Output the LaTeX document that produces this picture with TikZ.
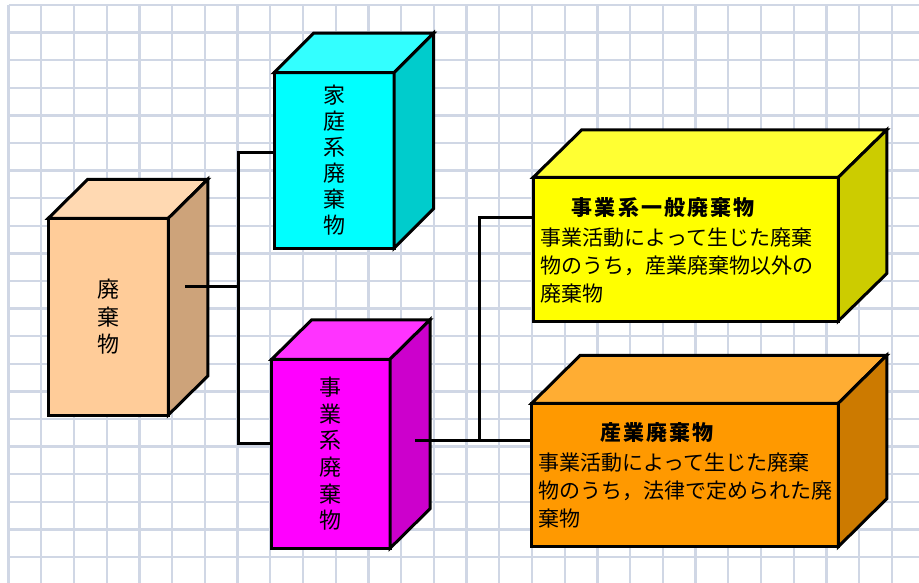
\documentclass[tikz,border=0pt]{standalone}
\usepackage{fontspec}
\newfontfamily\jp{Noto Sans CJK JP}
\definecolor{gridc}{RGB}{208,215,229}
\definecolor{peachF}{RGB}{255,204,153}
\definecolor{peachT}{RGB}{255,217,178}
\definecolor{peachS}{RGB}{205,163,122}
\definecolor{cyanF}{RGB}{0,255,255}
\definecolor{cyanT}{RGB}{51,255,255}
\definecolor{cyanS}{RGB}{0,204,204}
\definecolor{magF}{RGB}{255,0,255}
\definecolor{magT}{RGB}{255,51,255}
\definecolor{magS}{RGB}{204,0,204}
\definecolor{yelF}{RGB}{255,255,0}
\definecolor{yelT}{RGB}{255,255,51}
\definecolor{yelS}{RGB}{204,204,0}
\definecolor{orgF}{RGB}{255,153,0}
\definecolor{orgT}{RGB}{255,173,51}
\definecolor{orgS}{RGB}{204,122,0}
\newcommand\cubefaces[5]{%
  \filldraw[face, fill=#4] (#1.north west) -- ([shift={(#2,-#3)}]#1.north west) -- ([shift={(#2,-#3)}]#1.north east) -- (#1.north east) -- cycle;
  \filldraw[face, fill=#5] (#1.north east) -- ([shift={(#2,-#3)}]#1.north east) -- ([shift={(#2,-#3)}]#1.south east) -- (#1.south east) -- cycle;
}
\begin{document}
\begin{tikzpicture}[x=1pt,y=-1pt,
  face/.style={draw=black, line width=3pt, line join=miter},
  frontface/.style={face, rectangle, inner sep=0pt, outer sep=0pt, anchor=north west},
  conn/.style={draw=black, line width=3.3pt},
  vtext/.style={align=center, font={\jp\fontsize{22}{#1}\selectfont}},
  htitle/.style={anchor=west, inner sep=0pt, font={\jp\bfseries\fontsize{21}{28}\selectfont\addfontfeature{LetterSpace=10}}},
  hbody/.style={anchor=west, inner sep=0pt, align=left, font={\jp\fontsize{21}{28}\selectfont}}]
\useasboundingbox (0,0) rectangle (919,583);
\fill[white] (0,0) rectangle (919,583);
% grid
\foreach \k in {0,...,27} \draw[gridc, line width=2.3pt] (8.5+32.72*\k,5) -- (8.5+32.72*\k,583);
\foreach \k in {0,...,20} \draw[gridc, line width=2.3pt] (8.5,5+27.6*\k) -- (919,5+27.6*\k);

% box 1
\node[frontface, fill=peachF, minimum width=120pt, minimum height=196.7pt, vtext=27.5] (b1) at (48.3,218.3) {廃\\棄\\物};
\cubefaces{b1}{39.5}{39}{peachT}{peachS}
% box 2
\node[frontface, fill=cyanF, minimum width=120pt, minimum height=175.6pt, vtext=26] (b2) at (274,72.7) {家\\庭\\系\\廃\\棄\\物};
\cubefaces{b2}{39.5}{39.5}{cyanT}{cyanS}
% box 3
\node[frontface, fill=magF, minimum width=118.3pt, minimum height=189pt, vtext=26.7] (b3) at (271.7,359.3) {事\\業\\系\\廃\\棄\\物};
\cubefaces{b3}{40}{39.5}{magT}{magS}
% box 4
\node[frontface, fill=yelF, minimum width=305pt, minimum height=143.7pt] (b4) at (533.3,177.3) {};
\cubefaces{b4}{48.5}{47.5}{yelT}{yelS}
\node[htitle] (t4) at (571.7,207.5) {事業系一般廃棄物};
\node[hbody] (d4) at (540.7,266) {事業活動によって生じた廃棄\\物のうち，産業廃棄物以外の\\廃棄物};
% box 5
\node[frontface, fill=orgF, minimum width=306.6pt, minimum height=143.4pt] (b5) at (531.7,403.3) {};
\cubefaces{b5}{48.5}{48}{orgT}{orgS}
\node[htitle] (t5) at (600,432.5) {産業廃棄物};
\node[hbody] (d5) at (538.3,490.5) {事業活動によって生じた廃棄\\物のうち，法律で定められた廃\\棄物};

% connectors
\coordinate (b1s) at (185,286.7);
\coordinate (trunk) at (238.3,286.7);
\coordinate (b2w) at (b2.west |- 0,152.3);
\coordinate (b3w) at (b3.west |- 0,443.3);
\draw[conn] (b1s) -- (trunk);
\draw[conn] (b2w) -| (trunk) |- (b3w);
\coordinate (b3s) at (415,440.7);
\coordinate (trunk2) at (479.3,440.7);
\coordinate (b4w) at (b4.west |- 0,217.5);
\coordinate (b5w) at (b5.west |- 0,440.7);
\draw[conn] (b3s) -- (b5w);
\draw[conn] (trunk2) |- (b4w);
\end{tikzpicture}
\end{document}
